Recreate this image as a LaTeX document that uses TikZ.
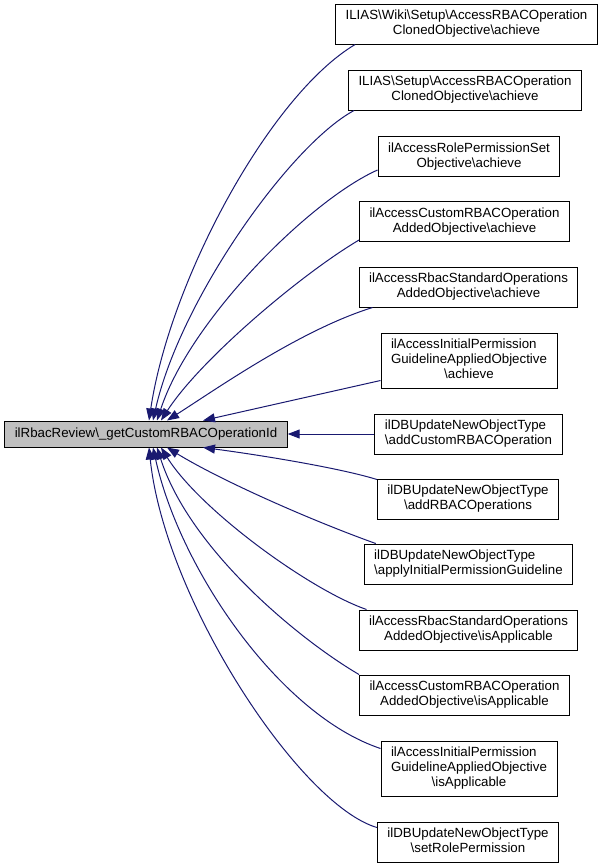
\documentclass[tikz,border=0pt]{standalone}
\usepackage{fontspec}
\setmainfont{Liberation Sans}
\usetikzlibrary{arrows.meta}
\definecolor{edgecol}{HTML}{191970}
\definecolor{mainfill}{HTML}{BFBFBF}
\newcommand\bs{\textbackslash}
\newcommand\twolines[2]{\begin{tabular}{@{}l@{}}#1\\\multicolumn{1}{@{}c@{}}{#2}\end{tabular}}
\newcommand\threelines[3]{\begin{tabular}{@{}l@{}}#1\\#2\\\multicolumn{1}{@{}c@{}}{#3}\end{tabular}}
\begin{document}
\begin{tikzpicture}[x=1pt,y=-1pt,
  box/.style={draw=black, line width=1pt, fill=white, inner xsep=10pt, inner ysep=0pt,
    font=\fontsize{13.3}{15}\selectfont, minimum height=40pt},
  tallbox/.style={box, minimum height=55pt},
  mainbox/.style={box, fill=mainfill, minimum height=26pt},
  edge/.style={draw=edgecol, line width=1pt, -{Triangle[length=12pt,width=9pt]}}]
\useasboundingbox (0,0) rectangle (607,868);

\node[mainbox] (main) at (146,434) {ilRbacReview\bs\_getCustomRBACOperationId};

\node[box] (b1) at (466.5,24) {\twolines{ILIAS\bs Wiki\bs Setup\bs AccessRBACOperation}{ClonedObjective\bs achieve}};
\node[box] (b2) at (465,90) {\twolines{ILIAS\bs Setup\bs AccessRBACOperation}{ClonedObjective\bs achieve}};
\node[box] (b3) at (469,156.5) {\twolines{ilAccessRolePermissionSet}{Objective\bs achieve}};
\node[box] (b4) at (464.5,221.5) {\twolines{ilAccessCustomRBACOperation}{AddedObjective\bs achieve}};
\node[box] (b5) at (468.5,287) {\twolines{ilAccessRbacStandardOperations}{AddedObjective\bs achieve}};
\node[tallbox] (b6) at (469,360.5) {\threelines{ilAccessInitialPermission}{GuidelineAppliedObjective}{\bs achieve}};
\node[box] (b7) at (468.5,434) {\twolines{ilDBUpdateNewObjectType}{\bs addCustomRBACOperation}};
\node[box] (b8) at (468,499) {\twolines{ilDBUpdateNewObjectType}{\bs addRBACOperations}};
\node[box] (b9) at (468.5,564) {\twolines{ilDBUpdateNewObjectType}{\bs applyInitialPermissionGuideline}};
\node[box] (b10) at (468.5,630) {\twolines{ilAccessRbacStandardOperations}{AddedObjective\bs isApplicable}};
\node[box] (b11) at (464.5,695) {\twolines{ilAccessCustomRBACOperation}{AddedObjective\bs isApplicable}};
\node[tallbox] (b12) at (469,768.5) {\threelines{ilAccessInitialPermission}{GuidelineAppliedObjective}{\bs isApplicable}};
\node[box] (b13) at (468,842) {\twolines{ilDBUpdateNewObjectType}{\bs setRolePermission}};

\draw[edge] ([xshift=20pt]b1.south west) .. controls (270,95) and (170,280) .. ([xshift=3pt]main.north);
\draw[edge] ([xshift=6pt]b2.south west) .. controls (290,145) and (180,300) .. ([xshift=7pt]main.north);
\draw[edge] ([yshift=7pt]b3.south west) .. controls (310,200) and (190,320) .. ([xshift=11pt]main.north);
\draw[edge] ([yshift=2pt]b4.south west) .. controls (300,275) and (200,360) .. ([xshift=15pt]main.north);
\draw[edge] ([xshift=14pt]b5.south west) .. controls (300,330) and (215,390) .. ([xshift=21pt]main.north);
\draw[edge] ([yshift=8pt]b6.south west) -- ([xshift=57pt]main.north);
\draw[edge] (b7.west) -- (main.east);
\draw[edge] ([yshift=-1pt]b8.north west) .. controls (340,468) and (260,455) .. ([xshift=57pt]main.south);
\draw[edge] ([xshift=12pt]b9.north west) .. controls (310,520) and (220,480) .. ([xshift=21pt]main.south);
\draw[edge] ([xshift=8pt]b10.north west) .. controls (310,590) and (200,510) .. ([xshift=15pt]main.south);
\draw[edge] (b11.north west) .. controls (300,640) and (190,550) .. ([xshift=11pt]main.south);
\draw[edge] ([yshift=-8pt]b12.north west) .. controls (280,715) and (180,570) .. ([xshift=7pt]main.south);
\draw[edge] ([yshift=-6pt]b13.north west) .. controls (300,805) and (165,600) .. ([xshift=3pt]main.south);
\end{tikzpicture}
\end{document}
